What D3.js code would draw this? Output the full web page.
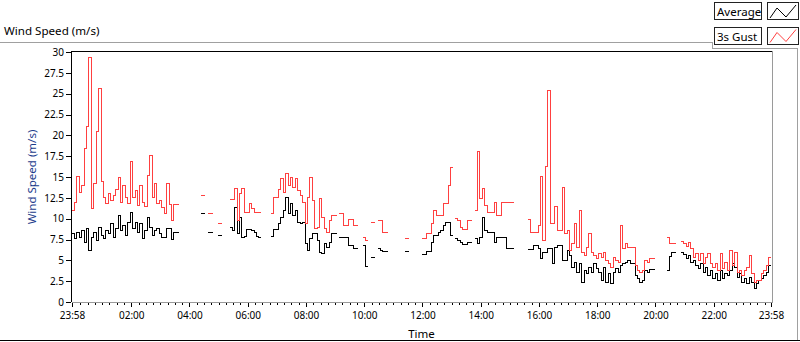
<!DOCTYPE html>
<html>
<head>
<meta charset="utf-8">
<script src="https://cdn.jsdelivr.net/npm/d3@7"></script>
<style>
    body { margin: 0; background: #ffffff; }
    svg text { font-family: "Noto Sans", sans-serif; fill: #000; }
</style>
</head>
<body>
<svg id="chart" width="800" height="342"></svg>
<script>
/** ********************************
 *           Data
 ********************************** */

// one sample every 5 minutes, starting 23:58 the day before (null = no data)
const startTime = "23:58";
const sampleMinutes = 5;

const avgSpeed = [
    8.2, 7.6, 8.4, 7.8, 8.6, 7.2, 8.8, 6.2, 7.8, 8.4, 7.4, 9.0,
    8.0, 7.6, 8.6, 8.2, 9.4, 7.8, 8.8, 10.4, 8.6, 9.2, 8.0, 9.6,
    10.8, 8.8, 9.6, 8.4, 9.4, 7.6, 8.6, 10.2, 9.0, 8.0, 8.6, 8.8,
    8.2, 7.7, 7.8, 8.8, 8.8, 7.5, 8.4, 8.4, null, null, null, null,
    null, null, null, null, null, 10.6, 10.6, null, 8.4, 8.4, null, null,
    8.0, 8.0, null, null, null, 9.0, 8.6, 11.4, 8.2, 10.2, 7.8, 7.9,
    8.7, 8.7, 8.6, 8.3, 7.9, 7.8, null, null, null, null, 7.9, 8.7,
    8.7, 9.4, 10.2, 11.0, 12.6, 10.6, 11.8, 10.4, 11.0, 9.6, 9.4, 9.6,
    7.0, 6.2, 7.6, 8.2, 8.2, 7.4, 6.0, 5.8, 7.0, 6.6, 7.2, 8.2,
    8.2, null, 7.8, 7.8, 7.8, 7.8, 6.8, 6.8, 6.4, 6.4, null, null,
    6.8, 4.3, null, 5.4, 5.4, null, 6.4, 6.2, 6.1, 6.1, null, null,
    null, null, null, null, null, 6.1, 6.1, null, null, null, null, null,
    5.7, 5.7, 6.1, 6.1, 7.2, 8.0, 8.0, 8.4, 8.6, 9.2, 9.6, 9.6,
    8.0, null, 7.6, 7.4, 7.2, 6.9, 6.9, 7.2, 7.2, null, 7.6, 7.0,
    7.8, 10.2, 8.6, 8.3, 8.3, 8.3, 7.1, 7.8, 7.8, 7.8, 7.8, 6.4,
    6.4, 6.4, null, null, null, null, null, null, 6.3, 6.3, 6.8, 6.8,
    6.4, 5.2, 5.9, 5.9, 6.4, 6.4, 4.6, 6.6, 6.8, 6.8, 5.0, 5.0,
    6.2, 5.6, 4.2, 4.8, 3.6, 4.6, 2.4, 3.8, 3.4, 4.2, 3.6, 4.6,
    4.0, 3.6, 2.6, 4.2, 2.4, 3.4, 2.2, 3.6, 4.0, 3.6, 4.4, 4.6,
    4.8, 5.0, 4.6, 4.6, 3.2, 2.8, 2.4, 2.6, 3.8, 3.6, 3.9, 3.9,
    null, null, null, null, null, 3.8, 5.5, 6.0, 6.0, null, null, 6.0,
    5.7, 5.2, 5.6, 4.8, 5.0, 4.4, 4.0, 4.6, 3.6, 4.2, 3.2, 3.8,
    2.8, 3.4, 2.6, 3.8, 2.8, 3.4, 3.2, 3.8, 4.6, 4.2, 3.0, 3.4,
    2.4, 2.8, 2.2, 3.0, 2.4, 1.6, 2.2, 2.6, 2.8, 3.2, 3.6, 4.4
];

const gustSpeed = [
    11.0, 12.0, 15.1, 13.2, 14.0, 18.4, 21.1, 29.4, 11.2, 14.2, 20.5, 25.6,
    14.5, 12.5, 11.8, 13.0, 12.2, 12.8, 13.5, 15.0, 12.0, 14.0, 12.5, 11.8,
    16.9, 12.5, 13.4, 11.6, 14.0, 12.0, 11.5, 15.2, 17.6, 12.5, 14.2, 11.8,
    12.2, 11.4, 10.6, 14.2, 11.7, 9.8, 11.7, 11.7, null, null, null, null,
    null, null, null, null, null, 12.8, 12.8, null, 10.6, 10.6, null, null,
    9.4, 9.4, null, null, null, 12.3, 12.3, 13.6, 9.8, 13.0, 13.6, 10.7,
    10.7, 11.8, 11.2, 10.8, 10.8, 10.8, null, null, null, null, 10.6, 12.6,
    12.6, 13.5, 14.8, 13.2, 15.4, 14.0, 15.0, 13.8, 14.8, 13.4, 12.8, 12.0,
    9.4, 12.6, 15.0, 12.2, 8.8, 9.0, 12.4, 10.2, 8.8, 8.4, 9.8, 10.4,
    10.4, null, 10.6, 10.6, 9.2, 9.2, 9.9, 9.9, 9.2, 9.2, null, null,
    7.8, 7.4, null, 9.5, 9.5, null, 9.8, 9.8, 8.4, 8.4, null, null,
    null, null, null, null, null, 7.6, 7.6, null, null, null, null, null,
    7.6, 7.6, 8.2, 8.2, 9.4, 11.0, 10.4, 10.4, 10.4, 11.8, 11.8, 14.0,
    16.2, null, 10.0, 9.8, 9.0, 8.7, 8.7, 9.8, 9.8, null, 11.0, 18.1,
    12.4, 13.6, 11.6, 10.8, 10.8, 10.8, 12.0, 10.4, 10.4, 12.0, 12.0, 12.0,
    12.0, 12.0, null, null, null, null, null, null, 9.9, 8.3, 8.4, 8.4,
    9.2, 15.1, 7.4, 16.3, 25.4, 9.4, 9.4, 11.5, 8.6, 8.6, 13.8, 8.2,
    8.6, 6.2, 7.0, 9.4, 6.6, 11.0, 6.0, 5.6, 6.6, 8.2, 6.0, 5.6,
    5.2, 5.8, 5.4, 6.0, 5.0, 4.6, 4.2, 5.4, 5.0, 4.8, 9.2, 6.4,
    7.0, 6.6, 6.6, 6.6, 4.4, 3.8, 3.6, 3.8, 5.0, 4.8, 5.2, 5.2,
    null, null, null, null, null, 7.8, 7.0, 7.0, 7.0, null, null, 7.3,
    7.0, 6.7, 7.2, 6.4, 5.4, 5.8, 5.0, 5.8, 4.6, 5.4, 5.8, 4.6,
    4.2, 4.6, 3.8, 5.8, 4.0, 4.8, 3.8, 6.2, 4.4, 6.0, 3.6, 3.8,
    3.2, 3.8, 4.2, 5.6, 3.4, 2.4, 2.6, 2.6, 3.4, 3.8, 4.4, 5.4
];

// Axis ticks
const yTickValues = [0, 2.5, 5, 7.5, 10, 12.5, 15, 17.5, 20, 22.5, 25, 27.5, 30];
const xTickLabels = ["23:58", "02:00", "04:00", "06:00", "08:00", "10:00", "12:00",
                     "14:00", "16:00", "18:00", "20:00", "22:00", "23:58"];

// Legend entries
const seriesNames = ["Average", "3s Gust"];
const seriesColors = ["#000000", "#ff4040"];

/** ********************************
 *           Layout
 ********************************** */

const plot = { left: 72, right: 771, top: 52, bottom: 302 };

const svg = d3.select("#chart");

// time of each sample
const [h0, m0] = startTime.split(":").map(Number);
const t0 = new Date(2020, 0, 1, h0, m0);
const tEnd = d3.timeMinute.offset(t0, avgSpeed.length * sampleMinutes);
const sampleTime = i => d3.timeMinute.offset(t0, i * sampleMinutes);

const xScale = d3.scaleTime().domain([t0, tEnd]).range([plot.left, plot.right]);
const yScale = d3.scaleLinear().domain([0, 30]).range([plot.bottom, plot.top]);

// major tick dates from the labels (first and last are the ends of the range)
const majorTicks = xTickLabels.map((lab, i) => {
    if (i === 0) return t0;
    if (i === xTickLabels.length - 1) return tEnd;
    const [h, m] = lab.split(":").map(Number);
    return new Date(2020, 0, 2, h, m);
});
const minorTicks = d3.timeMinute.every(15).range(t0, tEnd)
    .filter(t => majorTicks.every(m => Math.abs(t - m) > 5 * 60000));

/** ********************************
 *           Frames
 ********************************** */

// panel title and frame
svg.append("text")
    .attr("x", 4).attr("y", 35)
    .style("font-size", "11.6px")
    .text("Wind Speed (m/s)");

const frame = svg.append("g").attr("shape-rendering", "crispEdges").attr("fill", "none");
frame.append("path").attr("d", "M0,42.5H712.5V48.5H797.5V340").attr("stroke", "#a0a0a0");
frame.append("path").attr("d", "M0,340.5H800").attr("stroke", "#000");

// plot background and border (sunken look)
frame.append("rect")
    .attr("x", plot.left).attr("y", plot.top)
    .attr("width", plot.right - plot.left).attr("height", plot.bottom - plot.top)
    .attr("fill", "#fff");
frame.append("path")
    .attr("d", `M${plot.left - 0.5},${plot.bottom}V${plot.top - 0.5}H${plot.right + 1}`)
    .attr("stroke", "#000");
frame.append("path")
    .attr("d", `M${plot.left},${plot.bottom + 0.5}H${plot.right + 1.5}V${plot.top - 1}`)
    .attr("stroke", "#9a9a9a");

/** ********************************
 *           Axes
 ********************************** */

const yAxis = svg.append("g")
    .attr("transform", `translate(${plot.left - 1}, 0)`)
    .call(d3.axisLeft(yScale).tickValues(yTickValues).tickSize(5).tickPadding(2)
        .tickFormat(d => d));
yAxis.select(".domain").remove();
yAxis.selectAll("line").attr("shape-rendering", "crispEdges");
yAxis.selectAll("text").style("font-size", "10px").attr("fill", "#000");

const xAxis = svg.append("g")
    .attr("transform", `translate(0, ${plot.bottom + 1})`)
    .call(d3.axisBottom(xScale).tickValues(majorTicks).tickSize(4).tickPadding(5)
        .tickFormat((d, i) => xTickLabels[i]));
xAxis.select(".domain").remove();
xAxis.selectAll("line").attr("shape-rendering", "crispEdges");
xAxis.selectAll("text").style("font-size", "10px").attr("fill", "#000");

const xMinor = svg.append("g")
    .attr("transform", `translate(0, ${plot.bottom + 1})`)
    .call(d3.axisBottom(xScale).tickValues(minorTicks).tickSize(2).tickFormat(""));
xMinor.select(".domain").remove();
xMinor.selectAll("line").attr("shape-rendering", "crispEdges");

// axis titles
svg.append("text")
    .attr("x", (plot.left + plot.right) / 2).attr("y", 338)
    .attr("text-anchor", "middle")
    .style("font-size", "11.5px")
    .text("Time");

svg.append("text")
    .attr("transform", `translate(36, ${(plot.top + plot.bottom) / 2}) rotate(-90)`)
    .attr("text-anchor", "middle")
    .style("font-size", "11.5px")
    .style("fill", "#1c3c8c")
    .text("Wind Speed (m/s)");

/** ********************************
 *           Plots
 ********************************** */

// Step points: each sample holds until the next one; a gap ends the run
function stepPoints(values) {
    const pts = [];
    values.forEach((v, i) => {
        if (v == null) return;
        pts.push({ t: sampleTime(i), v: v });
        if (i === values.length - 1 || values[i + 1] == null) {
            pts.push({ t: sampleTime(i + 1), v: v });
            pts.push({ t: null, v: null });
        }
    });
    return pts;
}

const stepLine = d3.line()
    .defined(d => d.v != null)
    .x(d => xScale(d.t))
    .y(d => yScale(d.v))
    .curve(d3.curveStepAfter);

const plots = svg.append("g").attr("shape-rendering", "crispEdges");

[avgSpeed, gustSpeed].forEach((series, k) => {
    plots.append("path")
        .attr("d", stepLine(stepPoints(series)))
        .attr("fill", "none")
        .attr("stroke", seriesColors[k])
        .attr("stroke-width", 1);
});

/** ********************************
 *           Legend
 ********************************** */

const legend = svg.append("g").attr("shape-rendering", "crispEdges");
seriesNames.forEach((name, k) => {
    const y = 2 + k * 24.5;
    legend.append("rect")
        .attr("x", 714.5).attr("y", y + 0.5).attr("width", 47).attr("height", 17)
        .attr("fill", "#fff").attr("stroke", "#222");
    legend.append("text")
        .attr("x", 717).attr("y", y + 14)
        .style("font-size", "11.5px")
        .text(name);
    legend.append("rect")
        .attr("x", 767.5).attr("y", y + 0.5).attr("width", 31).attr("height", 17)
        .attr("fill", "#fff").attr("stroke", "#222");
    legend.append("path")
        .attr("d", `M770,${y + 16}L777,${y + 6}L786,${y + 15}L796,${y + 3}`)
        .attr("fill", "none")
        .attr("stroke", seriesColors[k])
        .attr("shape-rendering", "auto");
});
</script>
</body>
</html>
